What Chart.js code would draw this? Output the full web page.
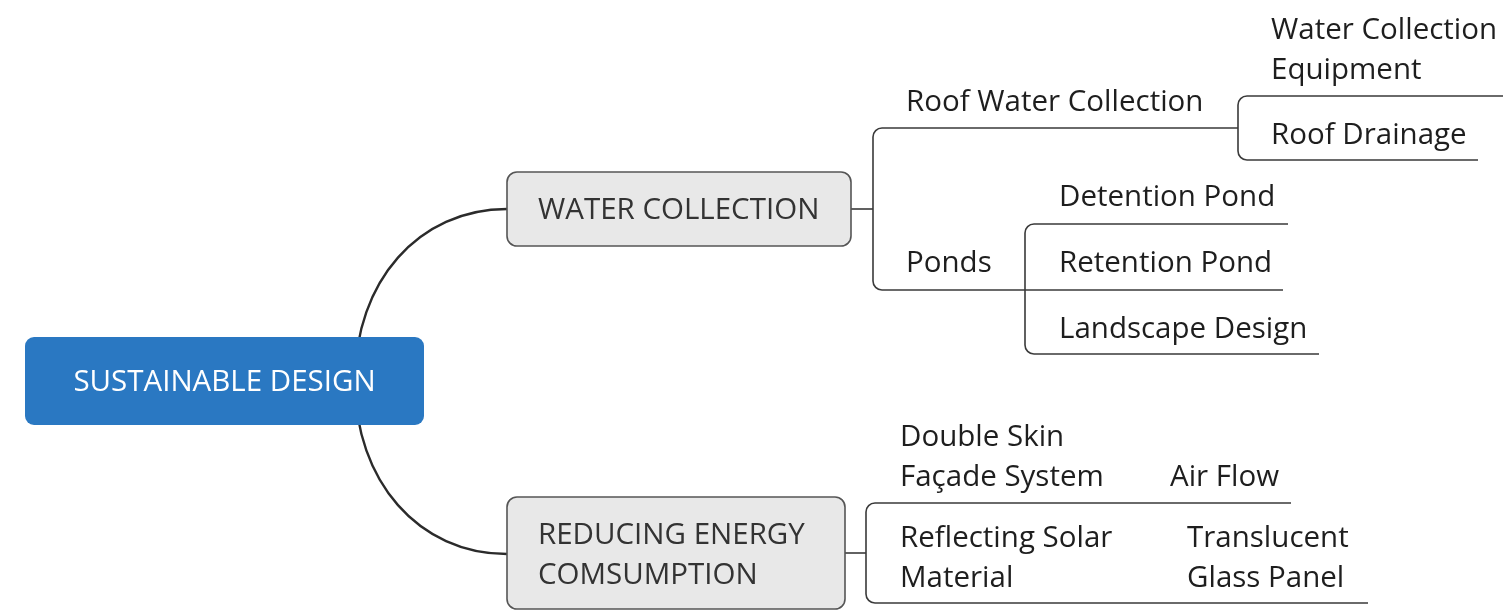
<!DOCTYPE html>
<html>
<head>
<meta charset="utf-8">
<script src="https://cdn.jsdelivr.net/npm/chart.js@4.4.1/dist/chart.umd.min.js"></script>
<style>
  html, body { margin: 0; padding: 0; background: #fff; }
  #wrap { width: 1503px; height: 610px; position: relative; }
</style>
</head>
<body>
<div id="wrap"><canvas id="mindmap"></canvas></div>
<script>
// Mind map content (tree levels).
var rootLabel = 'SUSTAINABLE DESIGN';
var mainBranches = ['WATER COLLECTION', 'REDUCING ENERGY\nCOMSUMPTION'];
var waterTopics = ['Roof Water Collection', 'Ponds'];
var roofItems = ['Water Collection\nEquipment', 'Roof Drainage'];
var pondItems = ['Detention Pond', 'Retention Pond', 'Landscape Design'];
var energyTopics = ['Double Skin\nFaçade System', 'Reflecting Solar\nMaterial'];
var energyItems = ['Air Flow', 'Translucent\nGlass Panel'];

// Layout in data units (x 0..1503, y 0..610 top-down).
var layout = {
  root: { x0: 25, x1: 424, y0: 337, y1: 425 },
  branches: [
    { x0: 507, x1: 851, y0: 172, y1: 246, tx: 538, ty: 209 },
    { x0: 507, x1: 845, y0: 497, y1: 609, tx: 538, ty: 554 }
  ],
  waterBracket: { x: 873, top: 128, bottom: 290, topEnd: 1238, bottomEnd: 1025 },
  waterText: [{ x: 906, y: 101 }, { x: 906, y: 262 }],
  roofBracket: { x: 1238, top: 96, bottom: 160, topEnd: 1503, bottomEnd: 1478 },
  roofText: [{ x: 1271, y: 49 }, { x: 1271, y: 134 }],
  pondBracket: { x: 1025, top: 224, bottom: 354, topEnd: 1288, bottomEnd: 1319, midY: 290, midEnd: 1283 },
  pondText: [{ x: 1059, y: 196 }, { x: 1059, y: 262 }, { x: 1059, y: 328 }],
  energyBracket: { x: 866, top: 503, bottom: 603, topEnd: 1291, bottomEnd: 1368 },
  energyText: [{ x: 900, y: 456 }, { x: 900, y: 557 }],
  energyItemText: [{ x: 1170, y: 476 }, { x: 1187, y: 557 }]
};

var FONT = '"Open Sans", "Noto Sans", sans-serif';
var FONT_SIZE = 29.5;
var LINE_GAP = 40;
var TEXT_SHIFT = 1.5;

var mindMapPlugin = {
  id: 'mindMap',
  afterDatasetsDraw: function (chart) {
    var ctx = chart.ctx;
    var xs = chart.scales.x;
    var ys = chart.scales.y;
    function px(v) { return xs.getPixelForValue(v); }
    function py(v) { return ys.getPixelForValue(v); }

    function roundRect(b, r) {
      var x0 = px(b.x0), x1 = px(b.x1), y0 = py(b.y0), y1 = py(b.y1);
      ctx.beginPath();
      ctx.moveTo(x0 + r, y0);
      ctx.lineTo(x1 - r, y0);
      ctx.arcTo(x1, y0, x1, y0 + r, r);
      ctx.lineTo(x1, y1 - r);
      ctx.arcTo(x1, y1, x1 - r, y1, r);
      ctx.lineTo(x0 + r, y1);
      ctx.arcTo(x0, y1, x0, y1 - r, r);
      ctx.lineTo(x0, y0 + r);
      ctx.arcTo(x0, y0, x0 + r, y0, r);
      ctx.closePath();
    }

    function bracket(b) {
      var r = 9;
      var x = px(b.x);
      ctx.beginPath();
      ctx.moveTo(px(b.topEnd), py(b.top));
      ctx.lineTo(x + r, py(b.top));
      ctx.arcTo(x, py(b.top), x, py(b.top) + r, r);
      ctx.lineTo(x, py(b.bottom) - r);
      ctx.arcTo(x, py(b.bottom), x + r, py(b.bottom), r);
      ctx.lineTo(px(b.bottomEnd), py(b.bottom));
      ctx.stroke();
    }

    function line(x0, y0, x1, y1) {
      ctx.beginPath();
      ctx.moveTo(px(x0), py(y0));
      ctx.lineTo(px(x1), py(y1));
      ctx.stroke();
    }

    function text(label, x, y, align) {
      var lines = label.split('\n');
      var startY = py(y) + TEXT_SHIFT - (lines.length - 1) * LINE_GAP / 2;
      ctx.textAlign = align || 'left';
      ctx.textBaseline = 'middle';
      lines.forEach(function (l, i) {
        ctx.fillText(l, px(x), startY + i * LINE_GAP);
      });
    }

    ctx.save();
    ctx.lineCap = 'butt';
    ctx.font = FONT_SIZE + 'px ' + FONT;

    // Curved connectors from root to main branches.
    var root = layout.root;
    var sx = 355, sy = (root.y0 + root.y1) / 2;
    ctx.strokeStyle = '#2b2b2b';
    ctx.lineWidth = 2.4;
    layout.branches.forEach(function (b) {
      var ey = b.ty;
      var ex = b.x0;
      ctx.beginPath();
      ctx.moveTo(px(sx), py(sy));
      ctx.bezierCurveTo(px(sx), py(sy + (ey - sy) * 0.58),
                        px(ex - (ex - sx) * 0.58), py(ey),
                        px(ex), py(ey));
      ctx.stroke();
    });

    // Thin connector lines.
    ctx.strokeStyle = '#3a3a3a';
    ctx.lineWidth = 1.6;
    var wb = layout.waterBracket;
    line(layout.branches[0].x1, layout.branches[0].ty, wb.x, layout.branches[0].ty);
    bracket(wb);
    bracket(layout.roofBracket);
    var pb = layout.pondBracket;
    bracket(pb);
    line(pb.x, pb.midY, pb.midEnd, pb.midY);
    var eb = layout.energyBracket;
    line(layout.branches[1].x1, 553, eb.x, 553);
    bracket(eb);

    // Root box.
    roundRect(root, 9);
    ctx.fillStyle = '#2a78c2';
    ctx.fill();
    ctx.fillStyle = '#ffffff';
    text(rootLabel, (root.x0 + root.x1) / 2, sy, 'center');

    // Main branch boxes.
    layout.branches.forEach(function (b, i) {
      roundRect(b, 10);
      ctx.fillStyle = '#e8e8e8';
      ctx.fill();
      ctx.strokeStyle = '#555555';
      ctx.lineWidth = 1.6;
      ctx.stroke();
      ctx.fillStyle = '#333333';
      text(mainBranches[i], b.tx, b.ty);
    });

    // Sub topics.
    ctx.fillStyle = '#1e1e1e';
    waterTopics.forEach(function (t, i) { text(t, layout.waterText[i].x, layout.waterText[i].y); });
    roofItems.forEach(function (t, i) { text(t, layout.roofText[i].x, layout.roofText[i].y); });
    pondItems.forEach(function (t, i) { text(t, layout.pondText[i].x, layout.pondText[i].y); });
    energyTopics.forEach(function (t, i) { text(t, layout.energyText[i].x, layout.energyText[i].y); });
    energyItems.forEach(function (t, i) { text(t, layout.energyItemText[i].x, layout.energyItemText[i].y); });

    ctx.restore();
  }
};

var anchors = [layout.root].concat(layout.branches).map(function (b) {
  return { x: (b.x0 + b.x1) / 2, y: (b.y0 + b.y1) / 2 };
});

new Chart(document.getElementById('mindmap'), {
  type: 'scatter',
  data: {
    datasets: [{
      data: anchors,
      pointRadius: 0,
      pointHoverRadius: 0
    }]
  },
  options: {
    responsive: true,
    maintainAspectRatio: false,
    animation: false,
    layout: { padding: 0 },
    plugins: { legend: { display: false }, tooltip: { enabled: false } },
    events: [],
    scales: {
      x: { type: 'linear', min: 0, max: 1503, display: false },
      y: { type: 'linear', min: 0, max: 610, reverse: true, display: false }
    }
  },
  plugins: [mindMapPlugin]
});
</script>
</body>
</html>
